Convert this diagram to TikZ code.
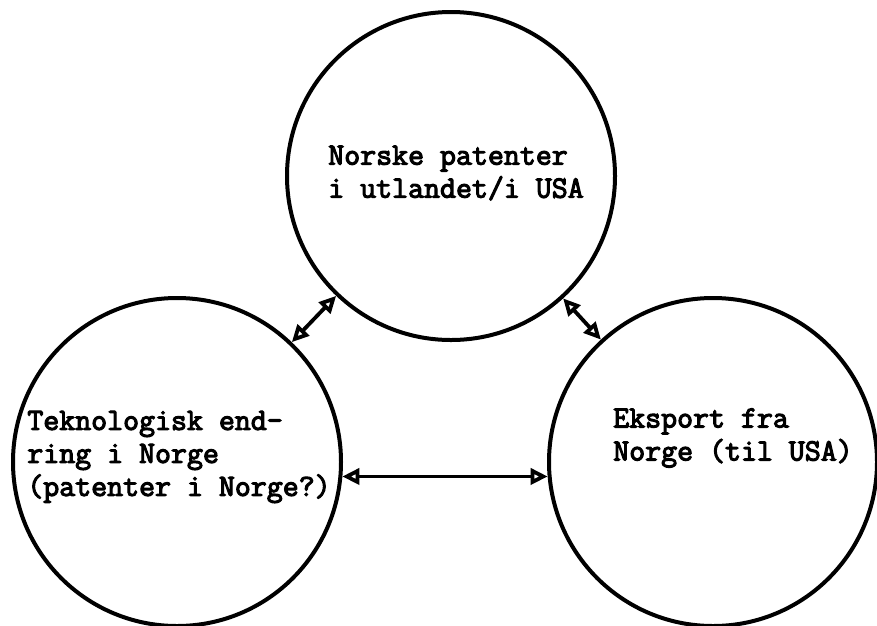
\documentclass[tikz,border=0pt]{standalone}
\usepackage{fontspec}
\newfontfamily\typewriter{Latin Modern Mono}[AutoFakeBold=3.5]
\usetikzlibrary{arrows.meta}
\tikzset{
  ring/.style={circle, draw, line width=4pt, minimum size=328pt, inner sep=0pt},
  ringtext/.style={align=left, inner sep=0pt,
    font=\typewriter\bfseries\fontsize{31}{33}\selectfont},
  openhead/.tip={Triangle[open, length=17pt, width=16pt]},
  biarrow/.style={line width=3.8pt, openhead-openhead}
}
\begin{document}
\begin{tikzpicture}[x=1pt, y=-1pt]
  \useasboundingbox (0,0) rectangle (877,625);

  % the three circles
  \node[ring] (T) at (451,176) {};
  \node[ring] (L) at (177,462) {};
  \node[ring] (R) at (713,462) {};

  % their texts
  \node[ringtext] (Ttext) at (456,173) {Norske patenter\\i utlandet/i USA};
  \node[ringtext] (Ltext) at (179,457) {Teknologisk end-\\ring i Norge\\(patenter i Norge?)};
  \node[ringtext] (Rtext) at (733,438) {Eksport fra\\Norge (til USA)};

  % two-way links between the circles
  \draw[biarrow] (L) -- (T);
  \draw[biarrow] (T) -- (R);
  \draw[biarrow] (L.-5.2) -- (R.185.2);
\end{tikzpicture}
\end{document}
